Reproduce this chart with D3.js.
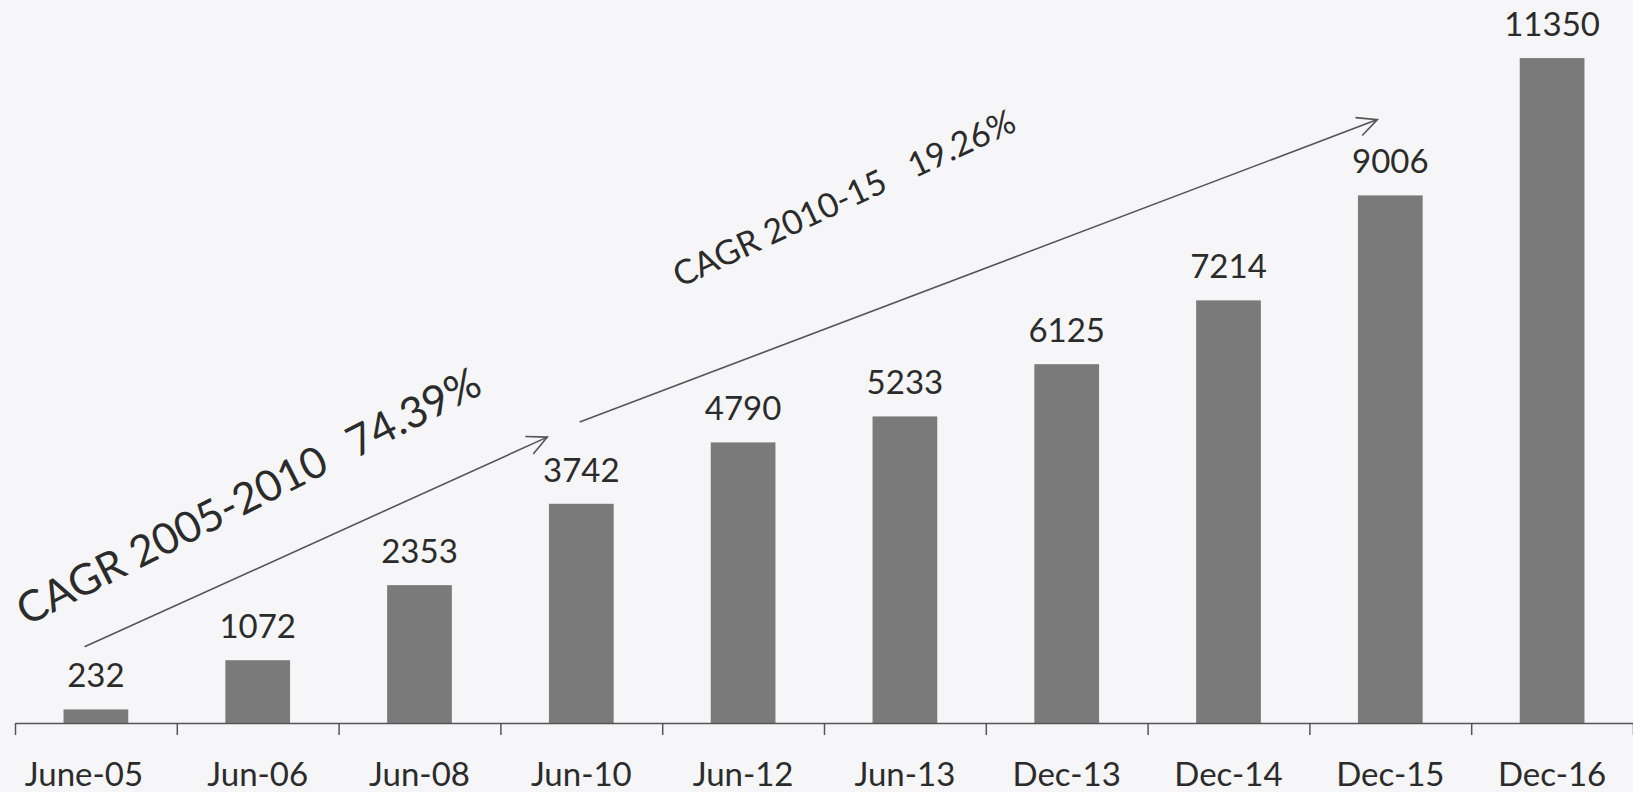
<!DOCTYPE html>
<html>
<head>
<meta charset="utf-8">
<script src="https://cdn.jsdelivr.net/npm/d3@7"></script>
<style>
  body { margin: 0; background: #f6f6f8; }
  svg { display: block; }
  text { font-family: Lato, "Open Sans", sans-serif; fill: #2b2b2b; }
</style>
</head>
<body>
<div id="graph"></div>
<script>
// data
let categories = ["June-05", "Jun-06", "Jun-08", "Jun-10", "Jun-12", "Jun-13", "Dec-13", "Dec-14", "Dec-15", "Dec-16"];
let values = [232, 1072, 2353, 3742, 4790, 5233, 6125, 7214, 9006, 11350];

// annotations: position as (category index, value)
let arrowFrom = [[-0.07, 1300], [2.99, 5140]];
let arrowTo = [[2.79, 4880], [7.92, 10300]];
let noteLabel = ["CAGR 2005-2010", "CAGR 2010-15"];
let noteRate = ["74.39%", "19.26%"];
let noteAt = [[-0.43, 1650], [3.61, 7430]];
let noteAngle = [-27, -25];
let noteSize = [43, 34];

let width = 1633, height = 792;

let svg = d3.select("#graph").append("svg")
  .attr("width", width)
  .attr("height", height);

let x = d3.scaleBand()
  .domain(categories)
  .range([15, 1633])
  .paddingInner(0.6)
  .paddingOuter(0.3);

// index -> x (band centres), for annotations
let xi = d3.scaleLinear()
  .domain([-0.5, categories.length - 0.5])
  .range([15, 1633]);

let y = d3.scaleLinear()
  .domain([0, 12000])
  .range([723, 20]);

// bars
svg.selectAll("rect.bar")
  .data(values)
  .enter()
  .append("rect")
  .attr("class", "bar")
  .attr("fill", "#7a7a7a")
  .attr("x", (d, i) => x(categories[i]))
  .attr("width", x.bandwidth())
  .attr("y", d => y(d))
  .attr("height", d => y(0) - y(d));

// value labels
svg.selectAll("text.val")
  .data(values)
  .enter()
  .append("text")
  .attr("class", "val")
  .attr("text-anchor", "middle")
  .attr("font-size", 33)
  .attr("x", (d, i) => x(categories[i]) + x.bandwidth() / 2)
  .attr("y", d => y(d) - 22)
  .text(d => d);

// axis, ticks between categories
let xEdge = d3.scaleLinear().domain([0, categories.length]).range([15, 1633]);
let axis = svg.append("g")
  .attr("transform", "translate(0," + y(0) + ")")
  .call(d3.axisBottom(xEdge).ticks(categories.length).tickFormat("").tickSize(12).tickSizeOuter(0));
axis.selectAll("path, line").attr("stroke", "#555").attr("stroke-width", 1.5);

svg.selectAll("text.cat")
  .data(categories)
  .enter()
  .append("text")
  .attr("class", "cat")
  .attr("text-anchor", "middle")
  .attr("font-size", 33)
  .attr("x", (d, i) => x(d) + x.bandwidth() / 2 - (i === 0 ? 12 : 0))
  .attr("y", 786)
  .text(d => d);

// arrows
arrowFrom.forEach(function (a, k) {
  let b = arrowTo[k];
  let x1 = xi(a[0]), y1 = y(a[1]), x2 = xi(b[0]), y2 = y(b[1]);
  let ang = Math.atan2(y2 - y1, x2 - x1);
  let len = 22, spread = 0.45;
  svg.append("line")
    .attr("x1", x1).attr("y1", y1).attr("x2", x2).attr("y2", y2)
    .attr("stroke", "#555").attr("stroke-width", 1.6);
  svg.append("path")
    .attr("fill", "none").attr("stroke", "#555").attr("stroke-width", 1.6)
    .attr("d", "M" + (x2 - len * Math.cos(ang - spread)) + "," + (y2 - len * Math.sin(ang - spread)) +
      "L" + x2 + "," + y2 +
      "L" + (x2 - len * Math.cos(ang + spread)) + "," + (y2 - len * Math.sin(ang + spread)));
});

// CAGR notes
noteLabel.forEach(function (t, k) {
  let px = xi(noteAt[k][0]), py = y(noteAt[k][1]);
  let note = svg.append("text")
    .attr("font-size", noteSize[k])
    .attr("transform", "translate(" + px + "," + py + ") rotate(" + noteAngle[k] + ")");
  note.append("tspan").text(t);
  note.append("tspan").attr("dx", 28).text(noteRate[k]);
});
</script>
</body>
</html>
